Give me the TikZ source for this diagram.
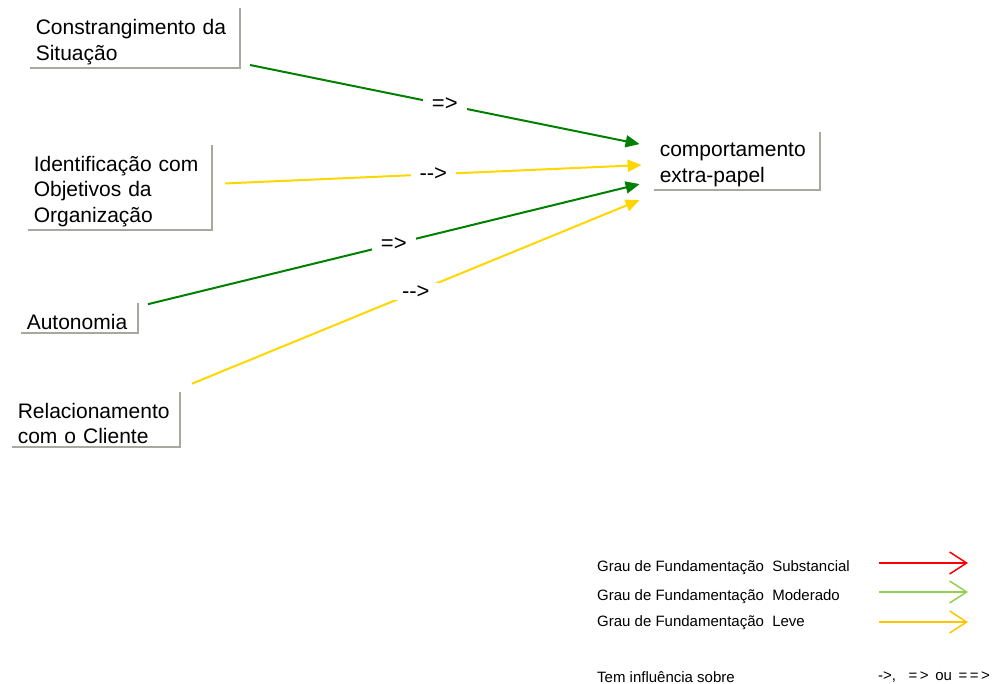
\documentclass[tikz,border=0pt]{standalone}
\usepackage{fontspec}
\setmainfont{Liberation Sans}
\usetikzlibrary{arrows.meta,positioning,calc}
\definecolor{darkgreen}{RGB}{0,128,0}
\definecolor{strongyellow}{RGB}{255,214,0}
\definecolor{legendgreen}{RGB}{146,208,80}
\definecolor{legendyellow}{RGB}{255,196,0}
\definecolor{rimgray}{RGB}{168,168,158}

\begin{document}
\begin{tikzpicture}[x=1pt, y=-1pt,
    box/.style={anchor=south east, inner xsep=6pt, inner ysep=3pt, align=left, font=\fontsize{21}{25.5}\selectfont},
    rim/.style={draw=rimgray, line width=2pt},
    link/.style={line width=2pt, -{Triangle[length=14pt,width=12pt]}},
    tag/.style={fill=white, text=black, inner xsep=9pt, inner ysep=2pt, font=\fontsize{22}{24}\selectfont},
    legtext/.style={anchor=west, inner sep=0pt, font=\fontsize{15}{17}\selectfont},
    legarrow/.style={line width=1.5pt, -{Straight Barb[length=17pt,width=22pt]}}]
    \useasboundingbox (0,0) rectangle (1001,684);

    \node[box, text width=198pt] (cons) at (240,68) {Constrangimento da\\Situação};
    \node[box, text width=172pt] (ident) at (212,230) {Identificação com\\Objetivos da\\Organização};
    \node[box, text width=105pt] (auto) at (138,333) {Autonomia};
    \node[box, text width=156pt] (rel) at (180,447) {Relacionamento\\com o Cliente};
    \node[box, text width=154pt] (comp) at (820,190) {comportamento\\extra-papel};

    \foreach \n in {cons,ident,auto,rel,comp}
        \draw[rim] (\n.south west) -| ($(\n.north east)+(0,-8)$);

    \draw[link, darkgreen] ($(cons.south east)+(10,-3)$) -- node[tag] {=>} ($(comp.west)+(-14,-21)$);
    \draw[link, strongyellow] ($(ident.east)+(13,-8)$) -- node[tag] {-{}->} ($(comp.west)+(-12,0)$);
    \draw[link, darkgreen] ($(auto.north east)+(10,-7)$) -- node[tag] {=>} ($(comp.west)+(-14,19)$);
    \draw[link, strongyellow] ($(rel.north east)+(12,-16)$) -- node[tag] {-{}->} ($(comp.west)+(-14,35)$);

    \node[legtext] (subst) at (597,568) {Grau de Fundamentação\ \ Substancial};
    \node[legtext] (moder) at (597,597) {Grau de Fundamentação\ \ Moderado};
    \node[legtext] (leve) at (597,623) {Grau de Fundamentação\ \ Leve};
    \node[legtext] (infl) at (597,677) {Tem influência sobre};
    \node[legtext] (signs) at (878,677) {-{}>,\ \ \ =\,>\ \,ou\ \,=\,=\,>};

    \coordinate (subst-a) at (879,563);
    \coordinate (subst-b) at (968,563);
    \coordinate (moder-a) at (879,592);
    \coordinate (moder-b) at (968,592);
    \coordinate (leve-a) at (879,622);
    \coordinate (leve-b) at (968,622);
    \draw[legarrow, red] (subst-a) -- (subst-b);
    \draw[legarrow, legendgreen] (moder-a) -- (moder-b);
    \draw[legarrow, legendyellow] (leve-a) -- (leve-b);
\end{tikzpicture}
\end{document}
